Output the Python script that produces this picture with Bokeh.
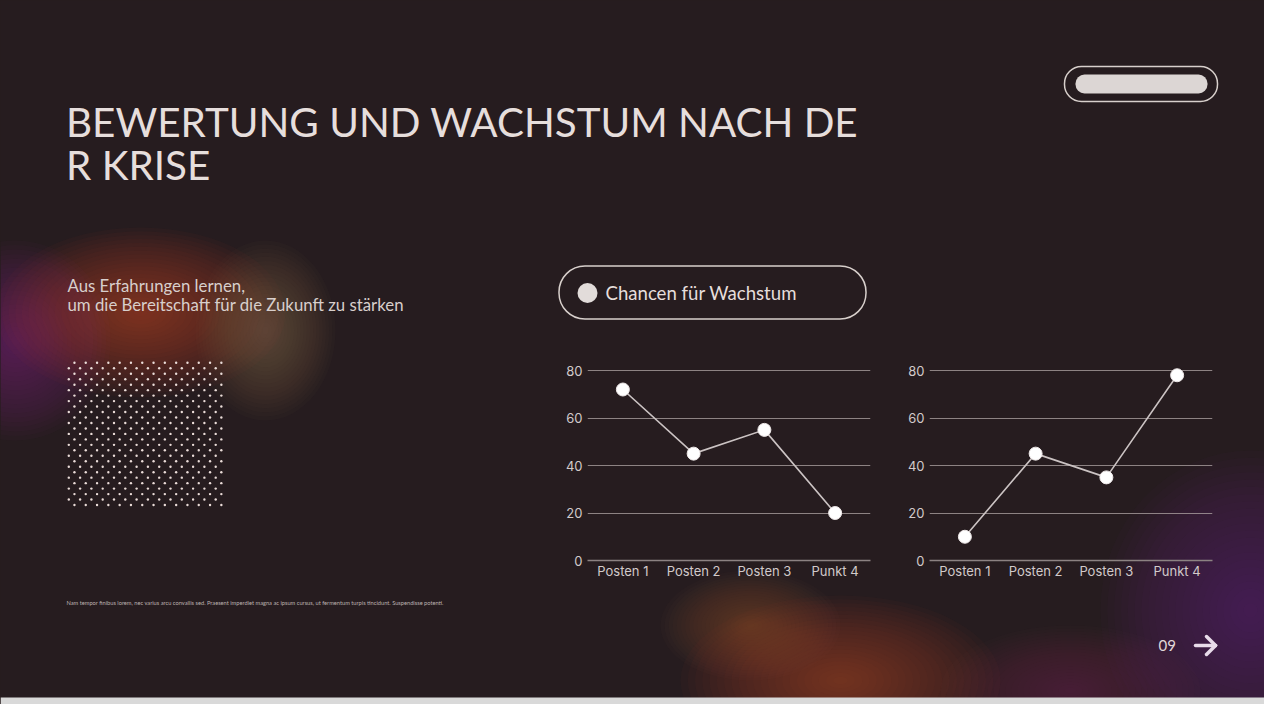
import numpy as np
from bokeh.plotting import figure
from bokeh.models import Range1d, FixedTicker
from bokeh.layouts import column, row
from bokeh.core.properties import value
from bokeh.embed import file_html
from bokeh.resources import INLINE

# ---------------- data ----------------
categories = ["Posten 1", "Posten 2", "Posten 3", "Punkt 4"]
values_left = [72, 45, 55, 20]
values_right = [10, 45, 35, 78]
y_ticks = [0, 20, 40, 60, 80]
title_lines = ["BEWERTUNG UND WACHSTUM NACH DE", "R KRISE"]
subtitle_lines = ["Aus Erfahrungen lernen,", "um die Bereitschaft für die Zukunft zu stärken"]
legend_label = "Chancen für Wachstum"
footnote = ("Nam tempor finibus lorem, nec varius arcu convallis sed. Praesent imperdiet magna ac "
            "ipsum cursus, ut fermentum turpis tincidunt. Suspendisse potenti.")
page_number = "09"

# ---------------- style ----------------
BG = "#261c1f"
TXT = "#e6dedc"
AX_TXT = "#d2caca"
FONT = "Lato"
AX_FONT = "Inter"
W, H = 1264, 704

# soft colour glows (slide pixel coords): cx, cy, w, h, colour, alpha per layer
BLOBS = [
    (15, 340, 190, 200, "#7a3d86", 0.04),
    (140, 312, 290, 170, "#b04a2c", 0.045),
    (265, 330, 140, 180, "#857052", 0.035),
    (1250, 610, 300, 320, "#6a3a7c", 0.04),
    (1070, 690, 260, 130, "#7a3050", 0.035),
    (840, 680, 320, 170, "#a8422a", 0.04),
    (750, 625, 180, 110, "#9a6a45", 0.032),
]

# ---------------- background slide ----------------
bg = figure(width=W, height=H, x_range=Range1d(0, W), y_range=Range1d(H, 0),
            output_backend="svg", toolbar_location=None, min_border=0,
            x_axis_location=None, y_axis_location=None,
            background_fill_color=BG, border_fill_color=BG, outline_line_color=None)
bg.grid.visible = False

xs, ys, ws, hs, cs, als = [], [], [], [], [], []
n = 22
for cx, cy, w, h, col, a in BLOBS:
    for i in range(n):
        s = 1 - i / n
        xs.append(cx); ys.append(cy); ws.append(w * s); hs.append(h * s)
        cs.append(col); als.append(a)
bg.ellipse(x=xs, y=ys, width=ws, height=hs, fill_color=cs, fill_alpha=als, line_color=None)

bg.text(x=[65.5, 65.5], y=[120.5, 163.5], text=title_lines, text_font=value(FONT),
        text_font_size=value("40.4px"), text_color=TXT, text_baseline="middle")
bg.text(x=[67, 67], y=[285, 303.5], text=subtitle_lines, text_font=value(FONT),
        text_font_size=value("16.8px"), text_color="#d8cfcc", text_baseline="middle")
# top-right pill
bg.quad(left=[1064], right=[1217], top=[66], bottom=[101], border_radius=17,
        fill_color=None, line_color="#d8d0cc", line_width=1.5)
bg.quad(left=[1075], right=[1207], top=[74], bottom=[93], border_radius=9,
        fill_color="#dcd6d4", line_color=None)
# legend pill
bg.quad(left=[558.5], right=[865.5], top=[265.5], bottom=[318.5], border_radius=26,
        fill_color=None, line_color="#d8d0cc", line_width=1.5)
bg.scatter(x=[587], y=[292.5], size=20, fill_color="#e2dcda", line_color=None)
bg.text(x=[605], y=[292.5], text=[legend_label], text_font=value(FONT),
        text_font_size=value("18.6px"), text_color=TXT, text_baseline="middle")

# dotted square
dx, dy = [], []
for r in range(27):
    yy = 362.3 + r * 5.47
    off = 5.65 if r % 2 == 0 else 0.0
    for c in range(14):
        dx.append(68.3 + off + c * 11.3)
        dy.append(yy)
bg.scatter(x=dx, y=dy, size=2.4, fill_color="#eadcd8", line_color=None)

# footer
bg.text(x=[66], y=[601.5], text=[footnote], text_font=value(FONT),
        text_font_size=value("5.7px"), text_color="#bdb2b0", text_baseline="middle")
bg.text(x=[1158], y=[645], text=[page_number], text_font=value(FONT),
        text_font_size=value("15px"), text_color="#e0d8d8", text_baseline="middle")
bg.segment(x0=[1195, 1215, 1215], y0=[645, 645, 645], x1=[1215, 1206, 1206], y1=[645, 636, 654],
           line_color="#e8dcea", line_width=3.5, line_cap="round")
bg.quad(left=[0], right=[W], top=[697], bottom=[H], fill_color="#d9d9d9", line_color=None)

# ---------------- charts (transparent, laid over the slide) ----------------
cat_pos = [i + 0.5 for i in range(len(categories))]


def chart(vals, x0, x1, fl, fr):
    p = figure(width=x1 - x0, height=230,
               x_range=Range1d(0, len(categories)),
               y_range=Range1d(0, 80 * 200 / 190),
               min_border_left=fl - x0, min_border_right=x1 - fr,
               min_border_top=0, min_border_bottom=30,
               output_backend="svg", toolbar_location=None,
               background_fill_alpha=0, border_fill_alpha=0, outline_line_color=None)
    p.xgrid.visible = False
    p.ygrid.ticker = FixedTicker(ticks=y_ticks)
    p.ygrid.grid_line_color = "#b0a6a6"
    p.ygrid.grid_line_alpha = 0.75
    p.ygrid.grid_line_width = 1.2
    p.yaxis.ticker = FixedTicker(ticks=y_ticks)
    p.yaxis.axis_line_color = None
    p.yaxis.major_tick_line_color = None
    p.yaxis.minor_tick_line_color = None
    p.yaxis.major_tick_out = 0
    p.yaxis.major_tick_in = 0
    p.yaxis.major_label_standoff = 5
    p.xaxis.ticker = FixedTicker(ticks=cat_pos)
    p.xaxis.major_label_overrides = {pos: name for pos, name in zip(cat_pos, categories)}
    p.xaxis.axis_line_color = "#8c8282"
    p.xaxis.axis_line_width = 1.5
    p.xaxis.major_tick_line_color = None
    p.xaxis.minor_tick_line_color = None
    p.xaxis.major_tick_out = 0
    p.xaxis.major_tick_in = 0
    p.xaxis.major_label_standoff = 2
    for ax in (p.xaxis[0], p.yaxis[0]):
        ax.major_label_text_font = AX_FONT
        ax.major_label_text_font_size = "13px"
        ax.major_label_text_color = AX_TXT
    p.line(cat_pos, vals, line_color="#cbc3c3", line_width=1.6)
    p.scatter(cat_pos, vals, size=13, fill_color="#ffffff", line_color="#eee8e8", line_width=1)
    return p


c1 = chart(values_left, 556, 890, 587, 870)
c2 = chart(values_right, 890, 1222, 929, 1212)
charts = row(c1, c2, spacing=0,
             styles={"position": "absolute", "left": "556px", "top": "360px"})

layout = column(bg, charts, spacing=0, styles={"position": "relative", "background-color": BG})

open("out.html", "w").write(file_html(layout, INLINE))
